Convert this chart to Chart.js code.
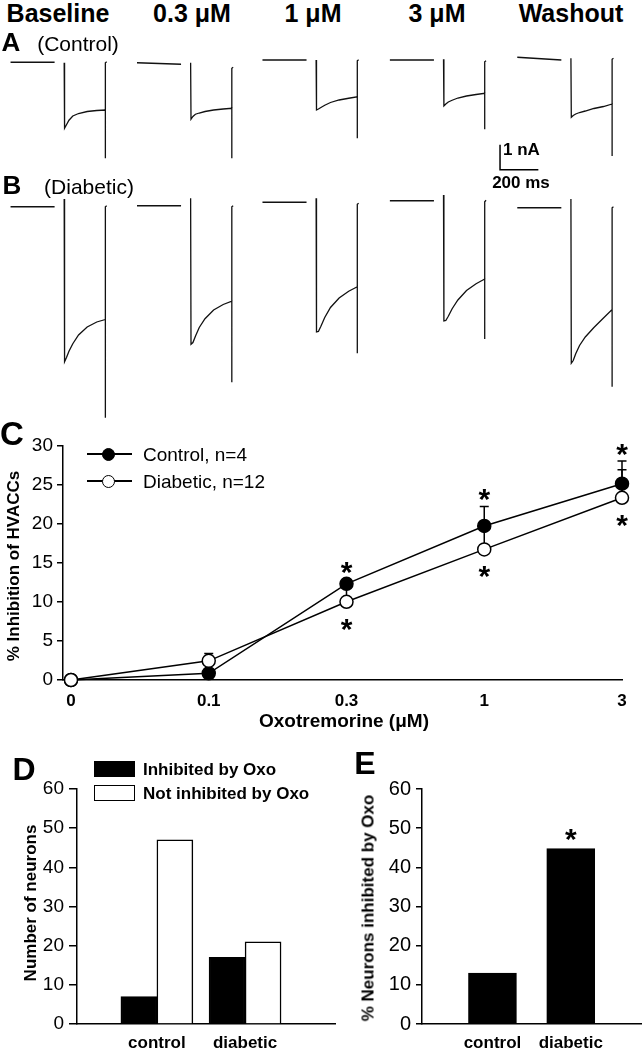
<!DOCTYPE html>
<html>
<head>
<meta charset="utf-8">
<title>Oxotremorine inhibition of HVACCs</title>
<script src="https://cdn.jsdelivr.net/npm/chart.js@4.4.1/dist/chart.umd.min.js"></script>
<style>
  html, body { margin: 0; padding: 0; background: #fff; }
  #fig { position: relative; width: 642px; height: 1050px; overflow: hidden; font-family: "Liberation Sans", Arial, sans-serif; color: #000; }
  #fig canvas { position: absolute; }
  .lbl { position: absolute; white-space: nowrap; line-height: 1; }
  .box { position: absolute; box-sizing: border-box; }
</style>
</head>
<body>
<div id="fig">
  <canvas id="tracesA" width="642" height="140" style="left:0;top:45px"></canvas>
  <canvas id="tracesB" width="642" height="240" style="left:0;top:185px"></canvas>
  <canvas id="doseC" width="642" height="310" style="left:0;top:430px"></canvas>
  <canvas id="countD" width="340" height="310" style="left:0;top:740px"></canvas>
  <canvas id="pctE" width="302" height="310" style="left:340px;top:740px"></canvas>
</div>
<script>
const FONT = '"Liberation Sans", Arial, sans-serif';
Chart.defaults.font.family = FONT;
Chart.defaults.color = '#000';
Chart.defaults.animation = false;

// ---- A / B : current traces (time in ms, current in nA) ----
const conditions = ['Baseline', '0.3 μM', '1 μM', '3 μM', 'Washout'];
const sweepStart = [55, 715, 1370, 2035, 2700];
// holding, gap, step, peak, decay ..., end of pulse, tail, back to holding
const sweepTime = [0, 230, 260, 280, 282, 292, 305, 325, 355, 400, 450, 495, 495, 495, 502];
const controlTraces = [
  [-0.05, -0.05, null, -0.07, -2.69, -2.55, -2.37, -2.20, -2.10, -2.02, -1.98, -1.96, -3.89, -0.07, -0.03],
  [-0.07, -0.13, null, -0.07, -2.33, -2.22, -2.13, -2.08, -2.02, -1.96, -1.92, -1.89, -3.89, -0.29, -0.25],
  [0.04, 0.04, null, 0.04, -1.96, -1.92, -1.86, -1.77, -1.66, -1.56, -1.49, -1.43, -3.09, 0.01, 0.05],
  [0.04, 0.04, null, 0.07, -1.80, -1.72, -1.64, -1.57, -1.48, -1.40, -1.34, -1.29, -2.73, -0.03, 0.01],
  [0.15, 0.04, null, 0.11, -2.25, -2.18, -2.12, -2.06, -2.00, -1.90, -1.82, -1.72, -3.80, 0.07, 0.11]
];
const diabeticTraces = [
  [-0.07, -0.07, null, 0.24, -6.27, -6.10, -5.85, -5.55, -5.20, -4.88, -4.68, -4.58, -8.51, -0.07, -0.03],
  [-0.03, -0.03, null, 0.27, -5.57, -5.50, -5.25, -4.90, -4.55, -4.20, -3.98, -3.85, -7.09, -0.07, -0.03],
  [0.11, 0.11, null, 0.27, -5.08, -5.06, -4.85, -4.50, -4.10, -3.72, -3.45, -3.27, -5.93, 0.03, 0.07],
  [0.17, 0.17, null, 0.40, -4.64, -4.62, -4.45, -4.15, -3.80, -3.42, -3.15, -2.96, -5.36, 0.13, 0.19],
  [-0.11, -0.11, null, 0.24, -6.33, -6.22, -5.95, -5.62, -5.28, -4.90, -4.52, -4.18, -7.27, -0.11, -0.07]
];
const scaleBarTime = [2610, 2610, 2810];   // 200 ms
const scaleBarCurrent = [-3.35, -4.35, -4.35]; // 1 nA

// ---- C : dose response ----
const doses = ['0', '0.1', '0.3', '1', '3'];
const seriesLabels = ['Control, n=4', 'Diabetic, n=12'];
const controlMean = [0, 0.85, 12.3, 19.7, 25.1];
const controlSem = [0, 0.4, 0.6, 2.5, 2.9];
const diabeticMean = [0, 2.45, 10.0, 16.7, 23.3];
const diabeticSem = [0, 0.95, 1.8, 2.8, 3.6];
const controlStar = [false, false, true, true, true];
const diabeticStar = [false, false, true, true, true];

// ---- D / E : neuron counts ----
const groups = ['control', 'diabetic'];
const legendLabels = ['Inhibited by Oxo', 'Not inhibited by Oxo'];
const inhibited = [7, 17];
const notInhibited = [47, 21];
const pctInhibited = [13, 44.8];
const pctStar = [false, true];

const fig = document.getElementById('fig');

function label(text, x, y, size, bold, align, rotate) {
  const d = document.createElement('div');
  d.className = 'lbl';
  d.textContent = text;
  d.style.left = x + 'px';
  d.style.top = y + 'px';
  d.style.fontSize = size + 'px';
  if (bold) d.style.fontWeight = 'bold';
  const tx = align === 'left' ? '0' : '-50%';
  d.style.transform = 'translate(' + tx + ',-50%)' + (rotate ? ' rotate(-90deg)' : '');
  fig.appendChild(d);
}

function box(x, y, w, h, css) {
  const d = document.createElement('div');
  d.className = 'box';
  Object.assign(d.style, { left: x + 'px', top: y + 'px', width: w + 'px', height: h + 'px' }, css);
  fig.appendChild(d);
}

function traceChart(id, traces, yMin, yMax, extra) {
  const datasets = traces.map((vals, k) => ({
    data: sweepTime.map((t, i) => ({ x: sweepStart[k] + t, y: vals[i] })),
    showLine: true, spanGaps: false,
    borderColor: '#111', borderWidth: 1.3, pointRadius: 0
  }));
  if (extra) datasets.push(extra);
  new Chart(document.getElementById(id), {
    type: 'scatter',
    data: { datasets },
    options: {
      responsive: false, devicePixelRatio: 1,
      layout: { padding: 0 },
      scales: {
        x: { type: 'linear', display: false, min: 0, max: 3351 },
        y: { type: 'linear', display: false, min: yMin, max: yMax }
      },
      plugins: { legend: { display: false }, tooltip: { enabled: false } }
    }
  });
}

traceChart('tracesA', controlTraces, -4.96, 0.64, {
  data: scaleBarTime.map((t, i) => ({ x: t, y: scaleBarCurrent[i] })),
  showLine: true, borderColor: '#000', borderWidth: 1.5, pointRadius: 0
});
traceChart('tracesB', diabeticTraces, -8.8, 0.8);

// error bars + asterisks through the chart scales
function errorBarPlugin(sets) {
  return {
    id: 'errorBars',
    beforeDatasetsDraw(chart) {
      const { ctx, scales: { x, y } } = chart;
      ctx.save();
      ctx.strokeStyle = '#000';
      ctx.lineWidth = 1.5;
      sets.forEach(s => s.mean.forEach((m, i) => {
        if (!s.sem[i]) return;
        const px = x.getPixelForValue(i);
        const p0 = y.getPixelForValue(m);
        const p1 = y.getPixelForValue(m + s.sem[i]);
        ctx.beginPath();
        ctx.moveTo(px, p0); ctx.lineTo(px, p1);
        ctx.moveTo(px - 4.5, p1); ctx.lineTo(px + 4.5, p1);
        ctx.stroke();
      }));
      ctx.restore();
    }
  };
}

function starPlugin(marks) {
  return {
    id: 'stars',
    afterDatasetsDraw(chart) {
      const { ctx, scales: { x, y } } = chart;
      ctx.save();
      ctx.fillStyle = '#000';
      ctx.font = 'bold 30px ' + FONT;
      ctx.textAlign = 'center';
      ctx.textBaseline = 'alphabetic';
      marks.forEach(m => {
        ctx.fillText('*', x.getPixelForValue(m.x), y.getPixelForValue(m.y) + m.dy + 17);
      });
      ctx.restore();
    }
  };
}

const blackAxis = { display: true, color: '#000', width: 1.5 };

function yAxis(max, step, width, tickLen, pad, size) {
  return {
    min: 0, max: max,
    ticks: { stepSize: step, padding: pad, font: { size: size }, color: '#000' },
    grid: { display: true, drawOnChartArea: false, drawTicks: true, tickLength: tickLen, color: '#000', lineWidth: 1.5 },
    border: blackAxis,
    afterFit: s => { s.width = width; }
  };
}

function xAxis(labels, first, min, max, height, pad) {
  return {
    type: 'linear', min: min, max: max, offset: false,
    afterBuildTicks: a => { a.ticks = labels.map((l, i) => ({ value: i + first })); },
    ticks: { callback: v => labels[v - first], padding: pad, autoSkip: false, maxRotation: 0,
             font: { size: 17, weight: 'bold' }, color: '#000' },
    grid: { display: false, drawTicks: false },
    border: blackAxis,
    afterFit: s => { s.height = height; }
  };
}

// ---- C ----
const cMarks = [];
controlStar.forEach((s, i) => { if (s) cMarks.push({ x: i, y: controlMean[i] + controlSem[i], dy: -14 }); });
diabeticStar.forEach((s, i) => { if (s) cMarks.push({ x: i, y: diabeticMean[i], dy: 20 }); });

new Chart(document.getElementById('doseC'), {
  type: 'scatter',
  data: {
    datasets: [
      { label: seriesLabels[0], data: controlMean.map((v, i) => ({ x: i, y: v })), showLine: true,
        borderColor: '#000', borderWidth: 1.5, pointRadius: 6.5, pointBackgroundColor: '#000',
        pointBorderColor: '#000', pointBorderWidth: 1.5, order: 1 },
      { label: seriesLabels[1], data: diabeticMean.map((v, i) => ({ x: i, y: v })), showLine: true,
        borderColor: '#000', borderWidth: 1.5, pointRadius: 6.5, pointBackgroundColor: '#fff',
        pointBorderColor: '#000', pointBorderWidth: 1.5, order: 0 }
    ]
  },
  options: {
    responsive: false, devicePixelRatio: 1, clip: false,
    layout: { padding: { top: 15, right: 20, left: 0, bottom: 0 } },
    scales: {
      x: xAxis(doses, 0, -0.058, 4, 60, 11),
      y: yAxis(30, 5, 63, 6, 4, 19)
    },
    plugins: { legend: { display: false }, tooltip: { enabled: false } }
  },
  plugins: [
    errorBarPlugin([{ mean: controlMean, sem: controlSem }, { mean: diabeticMean, sem: diabeticSem }]),
    starPlugin(cMarks)
  ]
});

// ---- D ----
new Chart(document.getElementById('countD'), {
  type: 'bar',
  data: {
    datasets: [
      { label: legendLabels[0], data: inhibited.map((v, i) => ({ x: i + 1, y: v })),
        backgroundColor: '#000', borderColor: '#000', borderWidth: 1.5, barThickness: 36 },
      { label: legendLabels[1], data: notInhibited.map((v, i) => ({ x: i + 1, y: v })),
        backgroundColor: '#fff', borderColor: '#000', borderWidth: 1.5, barThickness: 36 }
    ]
  },
  options: {
    responsive: false, devicePixelRatio: 1,
    layout: { padding: { top: 49, right: 5, left: 0, bottom: 0 } },
    scales: {
      x: xAxis(groups, 1, 0.094, 3.02, 26, 9),
      y: yAxis(60, 10, 77, 8, 5, 19)
    },
    plugins: { legend: { display: false }, tooltip: { enabled: false } }
  }
});

// ---- E ----
const eMarks = [];
pctStar.forEach((s, i) => { if (s) eMarks.push({ x: i + 1, y: pctInhibited[i], dy: -17 }); });
new Chart(document.getElementById('pctE'), {
  type: 'bar',
  data: {
    datasets: [
      { label: '% Neurons inhibited by Oxo', data: pctInhibited.map((v, i) => ({ x: i + 1, y: v })),
        backgroundColor: '#000', borderColor: '#000', borderWidth: 1.5, barThickness: 48 }
    ]
  },
  options: {
    responsive: false, devicePixelRatio: 1,
    layout: { padding: { top: 49, right: 0, left: 0, bottom: 0 } },
    scales: {
      x: xAxis(groups, 1, 0.1, 2.91, 26, 9),
      y: yAxis(60, 10, 82, 6, 5, 20)
    },
    plugins: { legend: { display: false }, tooltip: { enabled: false } }
  },
  plugins: [starPlugin(eMarks)]
});

// ---- text ----
const headerX = [58, 192, 313, 437, 571];
conditions.forEach((c, i) => label(c, headerX[i], 13, 25, true));
label('A', 11, 42, 26, true);
label('(Control)', 78, 43, 21, false);
label('B', 12, 185, 26, true);
label('(Diabetic)', 89, 186, 21, false);
label('1 nA', 503, 149, 17, true, 'left');
label('200 ms', 521, 182, 17, true);

label('C', 12, 433, 33, true);
label('% Inhibition of HVACCs', 13, 566, 17, true, null, true);
label('Oxotremorine (μM)', 344, 720, 19, true);
// C legend
[454, 481].forEach((y, i) => {
  box(87, y - 0.75, 45, 1.5, { background: '#000' });
  box(101.8, y - 6.5, 13, 13, { border: '1.5px solid #000', borderRadius: '50%', background: i === 0 ? '#000' : '#fff' });
  label(seriesLabels[i], 143, y, 19, false, 'left');
});

label('D', 24, 769, 32, true);
label('Number of neurons', 30, 903, 17, true, null, true);
box(94, 761, 41, 16, { background: '#000' });
box(94, 785, 41, 16, { background: '#fff', border: '1.5px solid #000' });
label(legendLabels[0], 143, 769, 17, true, 'left');
label(legendLabels[1], 143, 793, 17, true, 'left');

label('E', 365, 763, 32, true);
label('% Neurons inhibited by Oxo', 368, 908, 17, true, null, true);
</script>
</body>
</html>
